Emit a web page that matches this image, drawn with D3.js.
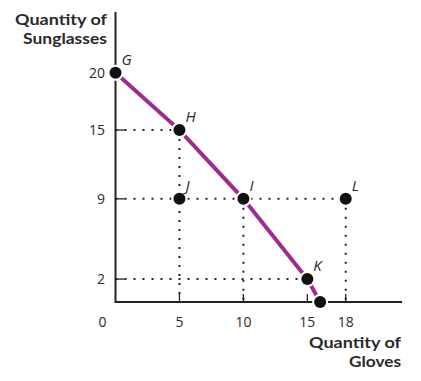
<!DOCTYPE html>
<html><head><meta charset="utf-8">
<script src="https://cdn.jsdelivr.net/npm/d3@7"></script>
<style>body{margin:0;background:#fff}svg{display:block}</style>
</head><body>
<script>
const labels = ["G","H","I","J","K","L",""];
const gloves = [0,5,10,5,15,18,16];
const sunglasses = [20,15,9,9,2,9,0];
const curveIdx = [0,1,2,4,6];
const xTicks = [5,10,15,18];
const yTicks = [2,9,15,20];
const xTitle = ["Quantity of","Gloves"];
const yTitle = ["Quantity of","Sunglasses"];

const W=421,H=381;
const svg=d3.select("body").append("svg").attr("width",W).attr("height",H);
const x=d3.scaleLinear().domain([0,22.4]).range([115.5,402]);
const y=d3.scaleLinear().domain([0,25.3]).range([302,12]);
const pts=gloves.map((g,i)=>({x:g,y:sunglasses[i],l:labels[i]}));
const txt="#2a2a2a";
const FF="'Open Sans', Lato, sans-serif";
function dl(x1,y1,x2,y2){
  svg.append("line").attr("x1",x(x1)).attr("y1",y(y1)).attr("x2",x(x2)).attr("y2",y(y2))
    .attr("stroke","#222").attr("stroke-width",2).attr("stroke-dasharray","2,7");
}
const P=i=>pts[i];
dl(0,P(1).y,P(1).x,P(1).y);
dl(P(1).x,P(1).y,P(1).x,0);
dl(0,P(5).y,P(5).x,P(5).y);
dl(P(2).x,P(2).y,P(2).x,0);
dl(P(5).x,P(5).y,P(5).x,0);
dl(0,P(4).y,P(4).x,P(4).y);

// axes
svg.append("line").attr("x1",x(0)).attr("x2",x(0)).attr("y1",12).attr("y2",y(0)+1).attr("stroke","#222").attr("stroke-width",2);
svg.append("line").attr("x1",x(0)).attr("x2",402).attr("y1",y(0)).attr("y2",y(0)).attr("stroke","#222").attr("stroke-width",2);
xTicks.forEach(t=>{
  svg.append("line").attr("x1",x(t)).attr("x2",x(t)).attr("y1",y(0)).attr("y2",y(0)-8).attr("stroke","#222").attr("stroke-width",1.3);
  svg.append("text").attr("x",x(t)).attr("y",327).attr("text-anchor","middle").attr("font-family",FF).attr("font-size",14).attr("fill",txt).text(t);
});
svg.append("text").attr("x",102.5).attr("y",327).attr("text-anchor","middle").attr("font-family",FF).attr("font-size",14).attr("fill",txt).text(0);
yTicks.forEach(t=>{
  if(t!==20) svg.append("line").attr("x1",x(0)).attr("x2",x(0)+9).attr("y1",y(t)).attr("y2",y(t)).attr("stroke","#222").attr("stroke-width",1.3);
  svg.append("text").attr("x",105).attr("y",y(t)+5).attr("text-anchor","end").attr("font-family",FF).attr("font-size",14).attr("fill",txt).text(t);
});
// titles
const TF="Lato, sans-serif";
const yLens=[92,84], xLens=[92,52];
yTitle.forEach((s,i)=>svg.append("text").attr("x",107-yLens[i]).attr("y",25+i*19).attr("textLength",yLens[i]).attr("lengthAdjust","spacingAndGlyphs").attr("font-family",TF).attr("font-weight","bold").attr("font-size",15.5).attr("fill",txt).text(s));
xTitle.forEach((s,i)=>svg.append("text").attr("x",401-xLens[i]).attr("y",348+i*19).attr("textLength",xLens[i]).attr("lengthAdjust","spacingAndGlyphs").attr("font-family",TF).attr("font-weight","bold").attr("font-size",15.5).attr("fill",txt).text(s));

// curve
const line=d3.line().x(d=>x(d.x)).y(d=>y(d.y));
svg.append("path").attr("d",line(curveIdx.map(i=>pts[i]))).attr("fill","none").attr("stroke","#A02A8E").attr("stroke-width",4);

// dots
pts.forEach(p=>{
  svg.append("circle").attr("cx",x(p.x)).attr("cy",y(p.y)).attr("r",6).attr("fill","#111").attr("stroke","#fff").attr("stroke-width",4).attr("paint-order","stroke");
  if(p.l) svg.append("text").attr("x",x(p.x)+6).attr("y",y(p.y)-8).attr("font-family",FF).attr("font-style","italic").attr("font-size",15).attr("fill",txt).text(p.l);
});
</script>
</body></html>
